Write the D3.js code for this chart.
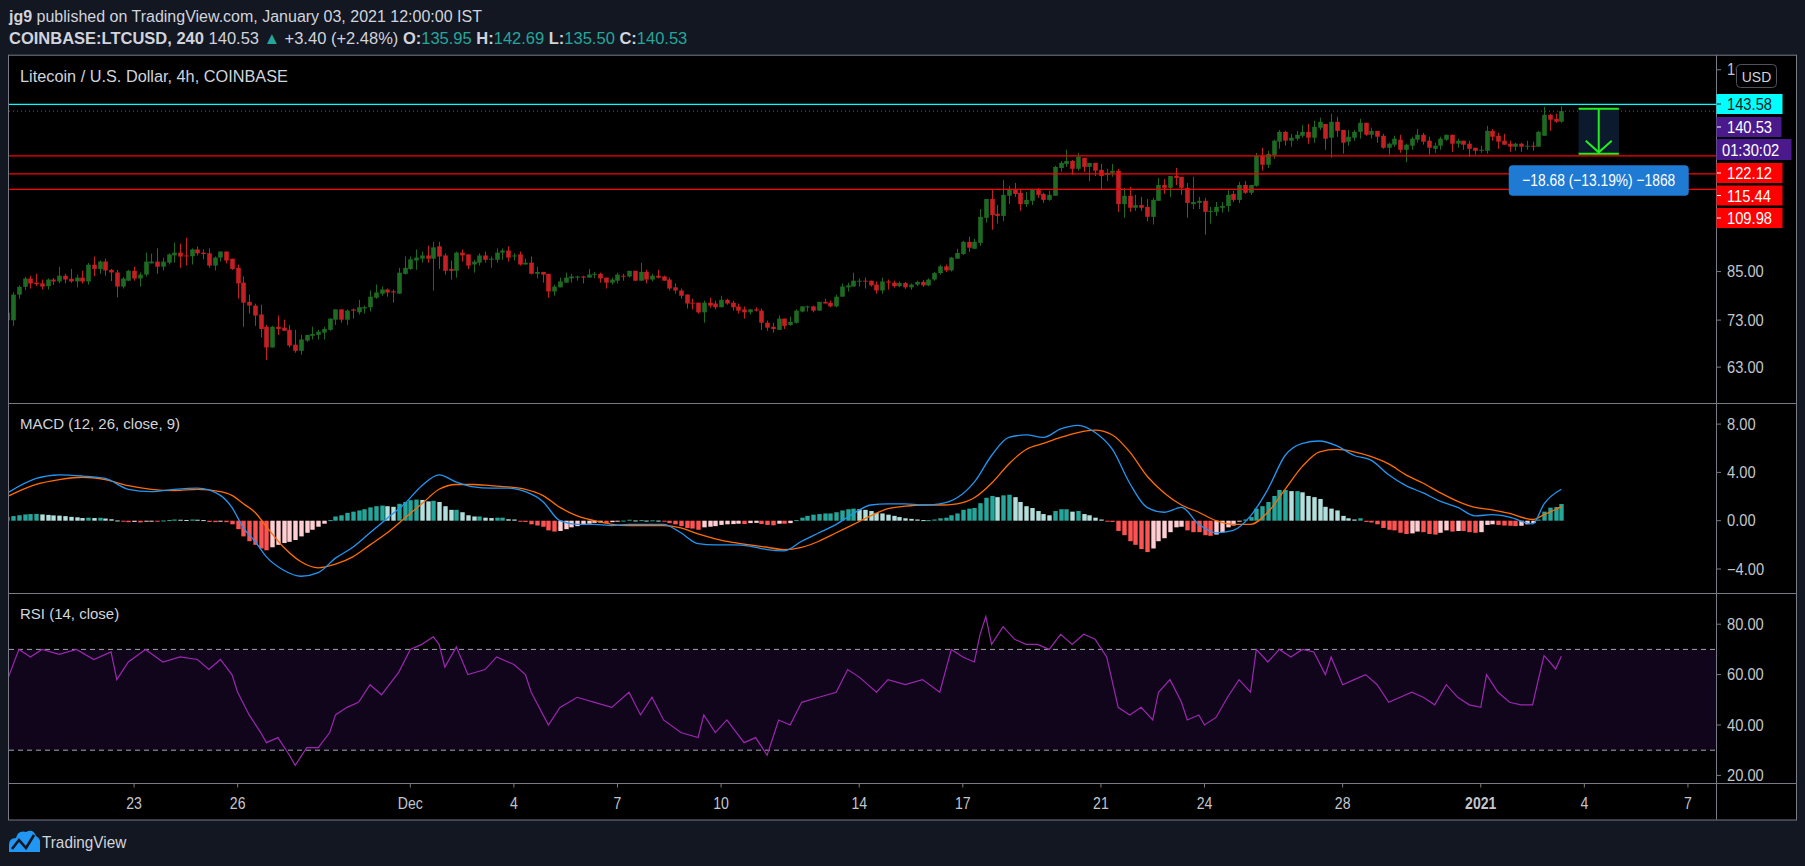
<!DOCTYPE html>
<html><head><meta charset="utf-8">
<script src="https://cdn.jsdelivr.net/npm/d3@7"></script>
<style>
html,body{margin:0;padding:0;background:#131722;overflow:hidden}
svg{display:block}
text{font-family:"Liberation Sans",Arial,sans-serif}
</style></head><body>
<svg id="c" width="1805" height="866"></svg>
<script>
// ---------- DATA ----------
const firstCandle = "2020-11-19T04:00:00Z"; // 4h candles
const open  = [74.7,72.96,79.07,81.03,83.16,82.1,81.9,81.2,82.9,82.4,83.9,83.1,82.4,83.4,82.4,86.86,85.7,87.7,85.45,84.77,81.1,82.6,85.2,83.16,84.2,87.2,87.7,86.3,87.4,89.4,90.2,89.4,89.2,91.1,90.2,90.0,86.6,88.8,90.5,88.5,86.0,82.1,77.3,76.4,74.3,71.5,67.0,71.5,71.3,70.8,67.6,66.3,68.46,69.5,69.7,70.2,70.8,73.1,75.5,73.1,75.5,74.8,75.7,76.0,78.3,79.3,80.35,79.9,79.3,84.4,85.7,88.0,88.5,89.4,88.5,92.0,89.4,85.7,85.2,90.2,89.7,86.9,87.4,89.4,88.2,88.2,90.2,90.8,89.1,89.7,86.9,87.4,84.4,84.9,84.4,79.85,80.9,82.1,83.2,83.4,83.7,83.4,84.2,84.4,83.4,82.1,82.6,83.9,83.7,85.2,82.6,84.9,82.9,83.9,83.7,82.9,80.9,80.1,79.1,77.1,77.1,74.8,77.1,76.9,76.0,77.8,77.1,76.2,75.5,74.8,75.5,75.2,72.4,71.5,70.8,73.35,71.9,72.4,75.0,76.0,76.2,75.2,77.3,77.1,76.2,78.56,80.9,81.1,82.4,82.6,82.6,81.6,80.1,82.4,82.1,81.2,82.0,80.9,81.6,82.3,81.4,82.9,84.6,86.4,85.3,88.5,89.8,93.3,91.3,93.0,100.6,106.7,101.9,101.2,107.8,109.8,108.8,105.0,106.1,109.8,108.4,106.4,107.8,117.6,119.1,120.2,117.3,121.4,118.0,119.5,116.9,115.1,115.8,116.6,105.0,107.8,103.8,104.7,104.1,100.9,106.1,111.5,110.5,114.7,114.4,110.5,105.0,105.4,106.1,102.5,102.5,103.8,104.4,108.4,106.4,111.5,108.8,111.2,122.1,118.8,122.5,127.7,131.7,128.1,128.9,130.1,131.7,129.3,133.4,135.0,129.3,135.9,132.5,127.7,129.3,131.7,135.5,130.5,132.1,130.1,125.3,126.5,128.5,124.5,126.1,128.5,130.5,128.1,124.9,126.1,128.5,130.5,126.9,128.1,126.9,125.3,124.1,124.1,132.1,130.1,128.1,126.9,125.7,126.9,125.7,126.1,125.7,130.1,138.9,137.2,135.95];
const high  = [75.0,79.67,81.37,83.58,83.92,84.4,82.9,83.2,83.3,86.3,84.4,85.7,84.2,85.2,87.3,89.1,88.0,88.5,85.7,85.45,83.6,85.45,86.3,84.8,90.2,89.96,91.4,88.8,89.96,93.1,92.8,94.5,91.4,92.0,91.1,91.4,89.1,90.5,90.5,88.5,86.9,83.7,79.1,76.86,76.6,71.9,71.7,74.06,73.1,71.9,70.8,69.7,69.7,71.5,70.8,71.5,73.35,75.5,75.5,75.5,75.7,77.8,76.4,80.1,81.6,81.1,80.6,80.35,86.0,89.1,89.1,91.1,90.5,92.2,93.3,93.3,90.0,88.0,90.5,91.1,89.7,88.2,90.0,90.5,89.1,91.4,91.4,92.0,90.0,90.5,88.5,89.1,86.3,84.9,84.4,81.6,83.4,84.7,84.4,83.9,83.9,85.7,84.9,84.7,83.4,83.4,84.7,84.4,85.2,85.2,87.4,85.45,84.4,85.45,83.9,83.4,81.9,80.6,79.1,78.06,77.1,77.6,78.3,77.6,78.8,78.06,77.6,76.9,76.2,75.5,76.0,75.7,72.9,72.4,74.06,73.35,73.8,75.5,76.2,76.4,76.4,77.3,78.06,77.6,79.1,81.9,82.1,84.7,83.2,83.4,82.6,82.4,83.4,82.9,82.6,82.4,82.3,81.9,82.6,82.8,83.2,84.9,86.8,86.9,89.0,91.3,93.6,94.8,94.2,103.4,106.7,109.8,104.7,113.3,111.2,112.2,109.8,109.1,110.2,110.5,108.8,109.5,118.4,120.2,124.5,120.6,123.3,121.4,119.5,119.5,119.1,117.3,119.1,117.3,110.5,110.9,108.1,107.4,106.7,107.1,114.0,113.6,114.7,117.6,114.4,112.2,114.4,107.4,107.1,104.1,105.7,105.7,109.8,109.5,112.6,112.9,111.5,123.3,125.3,124.1,128.5,132.5,132.1,130.9,132.1,134.6,135.0,136.4,137.7,135.0,139.4,138.1,132.5,132.5,132.5,137.2,135.5,133.4,132.1,130.9,127.3,130.1,130.5,126.9,129.7,132.9,131.3,129.7,127.3,129.7,130.5,130.5,128.9,128.1,128.1,125.3,126.1,134.2,132.9,131.3,130.9,128.1,127.3,127.3,128.1,127.7,132.1,142.4,139.4,139.4,142.69];
const low   = [72.9,71.7,78.06,80.18,80.6,81.2,80.35,80.35,81.5,81.9,81.9,82.05,80.9,81.9,81.6,83.75,84.4,83.9,82.5,78.4,80.6,82.5,82.6,81.1,83.7,87.2,84.4,85.3,86.9,87.4,86.0,86.6,86.9,89.4,88.3,86.0,85.3,87.7,87.2,85.45,78.06,71.5,74.5,71.7,69.1,64.4,67.0,69.7,70.6,67.0,65.9,65.5,68.2,68.7,68.7,68.7,70.6,71.9,72.4,71.9,73.35,74.3,74.5,75.0,78.06,78.8,78.56,77.1,79.3,84.2,85.45,85.45,87.4,87.4,80.1,85.7,84.2,82.9,83.4,87.7,85.7,84.7,86.6,87.4,86.0,87.4,88.2,87.7,88.0,86.6,86.9,84.2,83.2,82.1,78.3,78.8,80.9,82.1,82.1,82.6,81.9,83.4,83.2,82.1,80.6,81.6,81.9,82.6,83.4,82.5,82.6,81.9,82.4,83.2,82.6,80.1,79.3,78.06,75.7,75.5,74.5,72.4,75.9,75.5,76.0,76.6,75.2,74.5,73.35,74.3,75.0,70.8,70.6,70.2,70.8,71.0,71.7,72.2,74.8,75.0,74.8,75.2,76.9,76.0,76.0,78.56,79.85,81.1,81.1,80.6,81.1,79.3,79.3,80.35,80.8,80.9,80.5,80.3,81.2,81.0,81.2,82.6,84.2,84.9,85.0,88.5,89.5,90.4,91.3,92.1,99.1,96.9,98.8,99.5,105.0,107.4,102.8,104.1,104.7,107.1,105.4,106.1,107.8,116.2,118.0,115.1,116.6,116.2,112.9,114.7,110.1,112.9,114.4,102.5,100.6,102.5,102.8,102.8,99.5,98.5,106.1,108.4,107.4,111.5,108.1,100.6,103.4,103.4,95.4,98.8,101.2,102.2,102.5,105.7,105.4,108.4,108.1,110.9,116.6,117.6,121.0,124.9,126.1,125.7,128.1,129.3,126.9,127.3,132.5,124.5,121.4,129.7,123.0,126.1,128.1,128.9,130.1,128.9,127.3,124.9,122.6,125.7,123.3,119.8,124.5,127.3,126.5,122.6,123.3,124.5,128.1,123.7,125.3,124.5,121.8,122.6,123.3,123.0,128.1,124.9,126.5,123.7,124.1,123.7,124.5,124.1,125.7,130.1,132.1,135.5,135.50];
const close = [73.0,79.07,81.03,83.16,81.88,81.7,81.1,82.9,82.4,83.9,82.9,82.4,83.4,82.4,86.86,85.7,87.7,85.3,84.77,81.1,83.16,85.2,83.16,84.2,87.7,87.7,86.3,87.7,89.7,90.2,89.1,89.2,91.1,90.0,89.8,86.6,88.8,90.5,88.0,85.7,81.9,77.1,76.4,74.06,71.0,67.0,71.5,71.0,70.6,67.4,66.3,68.7,69.7,69.9,70.4,71.0,73.35,75.5,73.1,75.2,75.2,76.0,76.0,78.56,79.6,80.35,79.6,79.6,84.7,86.0,88.3,88.8,89.4,88.5,91.7,89.1,85.2,85.2,90.2,89.4,86.6,87.7,89.4,88.2,88.5,90.2,90.8,88.8,89.4,86.9,87.4,84.4,84.9,84.2,79.85,81.1,82.4,83.4,83.7,83.7,83.4,84.2,84.4,83.2,82.1,82.9,84.2,83.7,85.2,82.6,84.9,82.9,83.9,83.4,82.6,80.6,80.1,78.8,76.9,76.9,74.8,77.1,76.4,76.0,77.8,76.9,76.0,75.2,74.8,75.5,75.2,72.4,71.3,71.0,73.35,71.7,72.6,75.2,76.2,76.2,75.2,77.3,76.9,76.2,78.56,81.1,81.4,82.6,82.6,82.4,81.4,80.1,82.4,82.1,81.2,82.0,80.9,81.6,82.3,81.4,82.9,84.6,86.4,85.3,88.8,90.1,93.3,91.6,93.3,100.9,106.7,101.5,101.2,108.1,109.8,108.4,105.0,106.4,109.8,108.1,106.4,108.1,118.0,119.5,120.2,117.3,121.8,118.0,119.5,116.6,114.7,115.8,116.6,105.0,107.8,103.8,104.7,103.8,100.9,106.4,111.5,110.5,114.7,114.0,110.5,105.4,105.7,106.1,102.5,102.8,104.1,104.4,108.1,106.4,111.5,108.8,111.5,122.1,118.8,122.9,128.1,131.7,128.1,129.3,130.5,131.7,129.3,133.8,135.9,128.9,135.9,132.1,127.3,129.7,131.7,135.5,130.5,132.1,129.7,125.3,126.9,128.9,124.5,126.5,128.9,130.5,127.7,125.3,126.1,128.9,130.5,126.9,128.1,126.5,124.9,124.1,124.5,132.1,129.7,127.7,126.5,125.7,126.9,125.7,126.1,125.7,131.7,138.9,136.8,135.95,140.53];

const macdIdx   = [0,5,9,13,17,21,25,29,33,37,39,41,43,45,48,51,54,57,60,63,66,69,72,75,78,81,84,87,90,93,96,99,102,105,108,111,114,117,120,123,126,129,132,135,138,141,144,147,150,153,156,159,162,165,168,171,174,177,180,183,186,189,192,195,198,201,204,207,210,213,216,219,222,225,228,231,234,237,240,243,246,249,252,255,258,261,265,267,270];
const macdLine  = [2.3,3.5,3.8,3.7,3.5,2.6,2.4,2.6,2.7,2.1,1.1,-0.6,-1.7,-3.0,-4.1,-4.6,-4.3,-3.1,-2.2,-1.0,0.2,1.4,2.9,3.8,3.2,2.8,2.7,2.7,2.4,1.6,0.0,-0.3,-0.3,-0.4,-0.3,-0.3,-0.3,-1.0,-1.9,-2.0,-2.0,-2.1,-2.4,-2.5,-1.7,-1.0,-0.3,0.6,1.3,1.4,1.4,1.3,1.4,1.9,3.2,5.4,6.9,7.1,6.9,7.6,7.9,7.3,5.9,3.1,1.1,0.7,1.1,-0.3,-1.0,-0.8,0.4,2.6,5.4,6.4,6.6,6.2,5.4,5.0,3.8,2.9,2.3,1.6,1.1,0.4,0.5,0.3,-0.27,1.4,2.6];
const signalLine= [2.0,3.0,3.4,3.6,3.4,2.9,2.6,2.5,2.6,2.4,2.1,1.4,0.7,-0.5,-2.2,-3.4,-3.9,-3.6,-3.0,-2.0,-1.0,0.2,1.4,2.6,3.0,3.0,2.9,2.8,2.6,2.1,1.1,0.4,0.0,-0.3,-0.4,-0.4,-0.4,-0.6,-1.1,-1.5,-1.8,-2.0,-2.2,-2.4,-2.2,-1.7,-1.0,-0.3,0.4,1.0,1.2,1.3,1.3,1.4,1.9,3.1,4.7,5.9,6.4,6.9,7.3,7.5,7.1,5.7,3.7,2.3,1.3,0.7,0.0,-0.3,-0.3,0.7,2.6,4.5,5.7,5.9,5.7,5.3,4.7,3.8,3.1,2.3,1.6,1.1,0.9,0.6,0.1,0.5,1.16];
// MACD histogram, one value per candle
const histVal = [0.30,0.38,0.45,0.52,0.55,0.56,0.52,0.48,0.44,0.42,0.38,
 0.32,0.28,0.22,0.25,0.22,0.24,0.18,0.12,0.02,-0.06,
 -0.12,-0.10,-0.14,-0.04,-0.02,-0.06,0.02,0.06,0.10,0.08,
 0.06,0.10,0.08,0.05,-0.10,-0.12,-0.06,-0.12,-0.30,-0.70,
 -1.30,-1.70,-2.00,-2.30,-2.45,-2.20,-2.00,-1.85,-1.75,-1.60,
 -1.30,-1.00,-0.75,-0.50,-0.25,0.05,0.35,0.45,0.65,0.75,
 0.85,0.95,1.10,1.20,1.25,1.20,1.15,1.40,1.55,1.70,
 1.75,1.72,1.60,1.65,1.55,1.20,0.90,0.90,0.70,0.45,
 0.35,0.35,0.25,0.22,0.25,0.25,0.12,0.10,-0.05,-0.10,
 -0.30,-0.40,-0.50,-0.80,-0.90,-0.85,-0.70,-0.55,-0.45,-0.35,
 -0.25,-0.18,-0.15,-0.18,-0.12,-0.05,0.01,0.08,0.02,0.05,
 0.01,0.03,0.01,-0.05,-0.20,-0.30,-0.45,-0.60,-0.65,-0.75,
 -0.55,-0.50,-0.45,-0.35,-0.30,-0.28,-0.25,-0.28,-0.20,-0.18,
 -0.28,-0.35,-0.38,-0.25,-0.25,-0.20,0.05,0.25,0.40,0.50,
 0.55,0.60,0.60,0.70,0.85,0.95,1.00,0.95,0.90,0.80,
 0.65,0.60,0.50,0.40,0.30,0.20,0.15,0.10,0.05,0.05,
 0.10,0.20,0.25,0.45,0.60,0.90,1.00,1.05,1.45,1.90,
 2.05,1.95,2.10,2.15,1.95,1.55,1.20,1.05,0.80,0.55,
 0.45,0.80,0.95,0.95,0.75,0.80,0.55,0.45,0.25,0.10,
 -0.05,-0.10,-0.85,-1.20,-1.70,-2.00,-2.35,-2.60,-2.30,-1.70,
 -1.45,-0.95,-0.55,-0.50,-0.80,-0.95,-0.95,-1.20,-1.25,-1.15,
 -0.95,-0.55,-0.40,-0.05,0.10,0.30,1.00,1.20,1.55,2.05,
 2.55,2.55,2.45,2.45,2.35,2.05,1.95,1.80,1.15,1.00,
 0.85,0.40,0.20,0.10,0.20,-0.10,-0.15,-0.30,-0.60,-0.75,
 -0.80,-1.00,-1.10,-1.05,-0.90,-0.95,-1.10,-1.15,-1.00,-0.80,
 -0.90,-0.85,-0.85,-0.95,-1.00,-0.95,-0.35,-0.30,-0.35,-0.40,
 -0.42,-0.45,-0.42,-0.30,-0.20,0.10,0.75,1.08,1.13,1.38];

// RSI (14, close)
const rsiIdx = [0,2,4,6,9,12,15,18,19,21,24,27,30,33,35,37,39,40,42,44,45,47,49,50,52,54,56,57,59,61,63,65,68,70,72,74,75,76,78,80,83,85,88,90,91,94,96,99,102,105,108,110,112,114,117,120,121,123,125,128,130,132,134,136,138,141,144,146,148,151,153,156,159,162,164,166,168,169,170,171,173,175,177,179,181,183,185,187,189,191,193,195,197,199,200,202,204,205,207,208,210,212,214,216,217,219,221,223,225,227,229,230,232,234,236,238,240,242,244,246,248,250,252,254,256,257,259,261,263,265,266,267,268,269,270];
const rsiVal = [58,70,67,70,68,70,66,69,58,65,70,65,67,66,62,66,60,53,44,37,33,35,28,24,31,31,37,44,47,49,56,52,61,70,72,75,72,63,71,60,62,67,64,60,53,40,47,51,49,47,53,44,51,42,37,35,44,37,42,33,35,28,42,40,49,51,53,62,59,53,58,56,58,53,70,67,65,76,83,72,79,74,72,72,70,76,72,76,74,67,47,44,47,42,53,58,49,42,44,40,43,51,58,53,70,65,70,67,70,69,60,67,56,58,60,56,49,51,53,51,48,56,51,48,47,60,53,49,48,48,58,67.5,65,62.2,67.3];

const priceTicks = [160,85,73,63];
const macdTicks = [8,4,0,-4];
const rsiTicks = [80,60,40,20];
const timeTicks = ["2020-11-22T20:00:00Z","2020-11-25T20:00:00Z","2020-11-30T20:00:00Z","2020-12-03T20:00:00Z","2020-12-06T20:00:00Z","2020-12-09T20:00:00Z","2020-12-13T20:00:00Z","2020-12-16T20:00:00Z","2020-12-20T20:00:00Z","2020-12-23T20:00:00Z","2020-12-27T20:00:00Z","2020-12-31T20:00:00Z","2021-01-03T20:00:00Z","2021-01-06T20:00:00Z"];
const timeLabels = ["23","26","Dec","4","7","10","14","17","21","24","28","2021","4","7"];

const levels = [{p:143.58,c:"#00ffff"},{p:122.12,c:"#ff0000"},{p:115.44,c:"#ff0000"},{p:109.98,c:"#ff0000"}];
const lastPrice = 140.53;
const measure = {i0:273, i1:280, pTop:141.60, pBot:122.92, text:"\u221218.68 (\u221213.19%) \u22121868"};

// ---------- LAYOUT ----------
const L=9, R=1716, RR=1796, T=55.7, B1=403, B2=593, B3=783, B4=819.5;
const svg = d3.select("#c");
const H4 = 4*3600*1000;
const t0 = new Date(firstCandle).getTime();
const tOf = i => new Date(t0 + i*H4);
const x = d3.scaleUtc().domain([new Date(t0+1.077*3600e3), new Date(t0+1187.5*3600e3)]).range([L,R]);
const y = d3.scaleLog().domain([56.3,167.2]).range([B1,T]);
const yM = d3.scaleLinear().domain([0,8]).range([520.7,424.1]);
const yR = d3.scaleLinear().domain([20,80]).range([775.4,624.2]);

// narrow the glyphs of a text (the original uses a tall, narrow UI font)
function narrow(sel, f){ sel.each(function(){ const w=this.getComputedTextLength(); d3.select(this).attr("textLength",w*f).attr("lengthAdjust","spacingAndGlyphs"); }); return sel; }

// frame
svg.append("rect").attr("x",L-0.5).attr("y",T-0.5).attr("width",RR-L+1).attr("height",B4-T+1).attr("fill","#000").attr("stroke","#787b86").attr("stroke-width",1);
[B1,B2,B3].forEach(v=>svg.append("line").attr("x1",L-0.5).attr("x2",RR+0.5).attr("y1",v+0.5).attr("y2",v+0.5).attr("stroke","#787b86"));
svg.append("line").attr("x1",R+0.5).attr("x2",R+0.5).attr("y1",T-0.5).attr("y2",B4).attr("stroke","#787b86");

const defs = svg.append("defs");
function clip(id,y0,y1){defs.append("clipPath").attr("id",id).append("rect").attr("x",L).attr("y",y0).attr("width",R-L).attr("height",y1-y0);}
clip("cp",T,B1); clip("cm",B1+1,B2); clip("cr",B2+1,B3);
defs.append("clipPath").attr("id","cusd").append("rect").attr("x",R+1).attr("y",T).attr("width",1736-R-1).attr("height",40);

// ---------- PRICE PANE ----------
const gp = svg.append("g").attr("clip-path","url(#cp)");
const up="#1e6a22", dn="#c41f22";
const bw=4.6;
const idx = d3.range(close.length);
gp.selectAll("line.w").data(idx).join("line")
  .attr("x1",i=>Math.round(x(tOf(i)))+0.5).attr("x2",i=>Math.round(x(tOf(i)))+0.5)
  .attr("y1",i=>y(high[i])).attr("y2",i=>y(low[i]))
  .attr("stroke",i=>close[i]>=open[i]?up:dn).attr("stroke-width",1);
gp.selectAll("rect.b").data(idx).join("rect")
  .attr("x",i=>Math.round(x(tOf(i)))+0.5-bw/2).attr("width",bw)
  .attr("y",i=>y(Math.max(open[i],close[i])))
  .attr("height",i=>Math.max(1,Math.abs(y(open[i])-y(close[i]))))
  .attr("fill",i=>close[i]>=open[i]?up:dn);

levels.forEach(l=>gp.append("line").attr("x1",L).attr("x2",R).attr("y1",y(l.p)).attr("y2",y(l.p)).attr("stroke",l.c).attr("stroke-width",1.2));
gp.append("line").attr("x1",L).attr("x2",R).attr("y1",y(lastPrice)).attr("y2",y(lastPrice)).attr("stroke","#7b3fc4").attr("stroke-dasharray","1,3");

// measure tool
const mx0=x(tOf(measure.i0)), mx1=x(tOf(measure.i1)), my0=y(measure.pTop), my1=y(measure.pBot), mxc=(mx0+mx1)/2;
gp.append("rect").attr("x",mx0).attr("y",my0).attr("width",mx1-mx0).attr("height",my1-my0).attr("fill","#0b1a2c");
const green="#22ee22";
gp.append("line").attr("x1",mx0).attr("x2",mx1).attr("y1",my0).attr("y2",my0).attr("stroke",green).attr("stroke-width",2);
gp.append("line").attr("x1",mx0).attr("x2",mx1).attr("y1",my1).attr("y2",my1).attr("stroke",green).attr("stroke-width",2);
gp.append("line").attr("x1",mxc).attr("x2",mxc).attr("y1",my0).attr("y2",my1-1).attr("stroke",green).attr("stroke-width",2);
gp.append("path").attr("d",`M${mxc-13},${my1-13}L${mxc},${my1-1.5}L${mxc+13},${my1-13}`).attr("fill","none").attr("stroke",green).attr("stroke-width",2);
gp.append("rect").attr("x",mxc-90).attr("y",my1+11.5).attr("width",180).attr("height",30.5).attr("rx",4).attr("fill","#1f7ad3");
gp.append("text").attr("x",mxc).attr("y",my1+32.5).attr("text-anchor","middle").attr("fill","#fff").attr("font-size",17)
  .attr("textLength",153).attr("lengthAdjust","spacingAndGlyphs").text(measure.text);

svg.append("text").attr("x",20).attr("y",82).attr("fill","#d1d4dc").attr("font-size",16.3).text("Litecoin / U.S. Dollar, 4h, COINBASE");

// price axis
const axisCol="#c3c5cc";
priceTicks.forEach(p=>{
  svg.append("line").attr("x1",R+1).attr("x2",R+5).attr("y1",y(p)).attr("y2",y(p)).attr("stroke","#787b86");
  narrow(svg.append("text").attr("x",R+11).attr("y",y(p)+5.5).attr("fill",axisCol).attr("font-size",15.8)
    .attr("clip-path",p===160?"url(#cusd)":null).text(d3.format(".2f")(p)),0.93);
});
// USD button
svg.append("rect").attr("x",1736.5).attr("y",64.5).attr("width",40).attr("height",23).attr("rx",4).attr("fill","#000").attr("stroke","#50535e");
narrow(svg.append("text").attr("x",1756.5).attr("y",81.5).attr("text-anchor","middle").attr("fill","#d1d4dc").attr("font-size",15).text("USD"),0.93);

function plabel(yc,w,fill,tc,txt){
  svg.append("rect").attr("x",R+0.5).attr("y",yc-10).attr("width",w).attr("height",20).attr("fill",fill);
  svg.append("line").attr("x1",R+1).attr("x2",R+5).attr("y1",yc).attr("y2",yc).attr("stroke",tc);
  narrow(svg.append("text").attr("x",R+11).attr("y",yc+6).attr("fill",tc).attr("font-size",16).text(txt),0.92);
}
plabel(104,66,"#00ffff","#131722","143.58");
plabel(127,65,"#4a1a8c","#fff","140.53");
svg.append("rect").attr("x",R+0.5).attr("y",139).attr("width",75).attr("height",21).attr("fill","#4a1a8c");
narrow(svg.append("text").attr("x",R+6).attr("y",155.5).attr("fill","#fff").attr("font-size",16).text("01:30:02"),0.92);
plabel(173,66,"#ff0000","#fff","122.12");
plabel(195.5,66,"#ff0000","#fff","115.44");
plabel(218,66,"#ff0000","#fff","109.98");

// ---------- MACD ----------
const gm = svg.append("g").attr("clip-path","url(#cm)");
const hcol = (v,i)=>{const p = i>0?histVal[i-1]:v; return v>=0 ? (v>=p?"#26a69a":"#b2dfdb") : (v<=p?"#ff5252":"#ffcdd2");};
gm.selectAll("rect.h").data(histVal).join("rect")
  .attr("x",(v,i)=>Math.round(x(tOf(i)))+0.5-2.2).attr("width",4.4)
  .attr("y",v=>Math.min(yM(v),yM(0))).attr("height",v=>Math.max(1,Math.abs(yM(v)-yM(0))))
  .attr("fill",(v,i)=>hcol(v,i));
const lm = d3.line().x((d,j)=>x(tOf(macdIdx[j]))).y(d=>yM(d)).curve(d3.curveMonotoneX);
gm.append("path").datum(signalLine).attr("d",lm).attr("fill","none").attr("stroke","#ff6d00").attr("stroke-width",1.3);
gm.append("path").datum(macdLine).attr("d",lm).attr("fill","none").attr("stroke","#2196f3").attr("stroke-width",1.3);
svg.append("text").attr("x",20).attr("y",429).attr("fill","#d1d4dc").attr("font-size",15).text("MACD (12, 26, close, 9)");
macdTicks.forEach(v=>{
  svg.append("line").attr("x1",R+1).attr("x2",R+5).attr("y1",yM(v)).attr("y2",yM(v)).attr("stroke","#787b86");
  narrow(svg.append("text").attr("x",R+11).attr("y",yM(v)+5.5).attr("fill",axisCol).attr("font-size",15.8).text(d3.format(".2f")(v).replace("-","\u2212")),0.93);
});

// ---------- RSI ----------
const gr = svg.append("g").attr("clip-path","url(#cr)");
gr.append("rect").attr("x",L).attr("width",R-L).attr("y",yR(70)).attr("height",yR(30)-yR(70)).attr("fill","#10051b");
[70,30].forEach(v=>gr.append("line").attr("x1",L).attr("x2",R).attr("y1",yR(v)).attr("y2",yR(v)).attr("stroke","#a3a6ae").attr("stroke-dasharray","5,4"));
const lr = d3.line().x((d,j)=>x(tOf(rsiIdx[j]))).y(d=>yR(d));
gr.append("path").datum(rsiVal).attr("d",lr).attr("fill","none").attr("stroke","#9c27b0").attr("stroke-width",1.2);
svg.append("text").attr("x",20).attr("y",619).attr("fill","#d1d4dc").attr("font-size",15).text("RSI (14, close)");
rsiTicks.forEach(v=>{
  svg.append("line").attr("x1",R+1).attr("x2",R+5).attr("y1",yR(v)).attr("y2",yR(v)).attr("stroke","#787b86");
  narrow(svg.append("text").attr("x",R+11).attr("y",yR(v)+5.5).attr("fill",axisCol).attr("font-size",15.8).text(d3.format(".2f")(v)),0.93);
});

// ---------- TIME AXIS ----------
timeTicks.forEach((t,j)=>{
  const xx = x(new Date(t));
  svg.append("line").attr("x1",xx).attr("x2",xx).attr("y1",B3+1).attr("y2",B3+4.5).attr("stroke","#787b86");
  narrow(svg.append("text").attr("x",xx).attr("y",808.5).attr("text-anchor","middle").attr("fill",axisCol).attr("font-size",16)
    .attr("font-weight",timeLabels[j]==="2021"?"bold":"normal").text(timeLabels[j]),0.88);
});

// ---------- HEADER ----------
const h1 = svg.append("text").attr("x",9).attr("y",21.5).attr("fill","#d1d4dc").attr("font-size",16);
h1.append("tspan").attr("font-weight","bold").text("jg9");
h1.append("tspan").text(" published on TradingView.com, January 03, 2021 12:00:00 IST");
const teal="#26a69a";
const h2 = svg.append("text").attr("x",9).attr("y",44).attr("fill","#d1d4dc").attr("font-size",16.5);
h2.append("tspan").attr("font-weight","bold").text("COINBASE:LTCUSD, 240");
h2.append("tspan").text(" 140.53 ");
h2.append("tspan").attr("fill",teal).text("\u25B2");
h2.append("tspan").text(" +3.40 (+2.48%) ");
[["O:","135.95"],["H:","142.69"],["L:","135.50"],["C:","140.53"]].forEach(([a,b],j)=>{
  h2.append("tspan").attr("font-weight","bold").text((j? " ":"")+a);
  h2.append("tspan").attr("fill",teal).text(b);
});

// ---------- FOOTER ----------
svg.append("path").attr("d","M9,852 L9,845 Q9,838 16,838 Q18,830 26,832 Q33,828 36,836 Q41,838 40,846 L40,852 Z").attr("fill","#2196f3");
svg.append("path").attr("d","M12,849 L19,840 L26,848 L34,835").attr("fill","none").attr("stroke","#131722").attr("stroke-width",2.6);
narrow(svg.append("text").attr("x",42).attr("y",848).attr("fill","#d1d4dc").attr("font-size",17).text("TradingView"),0.9);
</script></body></html>
